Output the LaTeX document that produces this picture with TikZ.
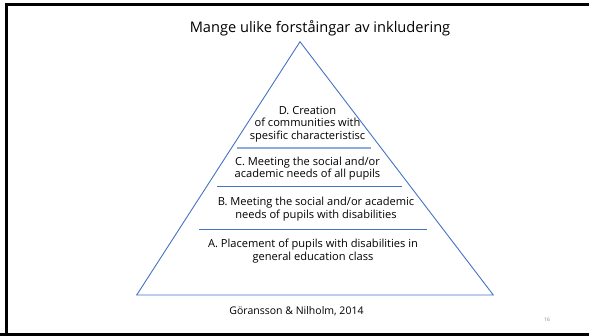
\documentclass[tikz,border=0pt]{standalone}
\usepackage{fontspec}
\setmainfont{Open Sans}
\definecolor{triblue}{HTML}{4472C4}
\definecolor{lightblue}{HTML}{8FAADC}
\begin{document}
\begin{tikzpicture}[x=1pt,y=-1pt,
  lvl/.style={align=center,font=\fontsize{11.1}{12.3}\selectfont,inner sep=0pt},
  sep/.style={draw=triblue,line width=0.9pt},
  frame/.style={line width=3pt,black}]
\useasboundingbox (0,0) rectangle (589,335);
% frame
\draw[frame] (6.5,3) -- (6.5,335);
\draw[frame] (5,4.5) -- (589,4.5);
\draw[frame] (0,334) -- (589,334);
% title
\node[font=\fontsize{14.6}{16}\selectfont,inner sep=0pt] (title) at (320,28) {Mange ulike forståingar av inkludering};
% triangle
\coordinate (apex) at (300,41.7);
\coordinate (bl) at (136.7,295);
\coordinate (br) at (493.3,295);
\draw[triblue,line width=0.9pt] (apex) -- (br) -- (bl) -- cycle;
% separators
\coordinate (l1a) at (237,148); \coordinate (l1b) at (371,148);
\coordinate (l2a) at (217,186.7); \coordinate (l2b) at (402,186.7);
\coordinate (l3a) at (199,229); \coordinate (l3b) at (427,229);
\draw[draw=lightblue,line width=1.3pt] (l1a) -- (l1b);
\draw[sep] (l2a) -- (l2b);
\draw[sep] (l3a) -- (l3b);
% texts
\node[lvl] (d) at (307.5,124) {D. Creation\\of communities with\\spesific characteristisc};
\node[lvl] (c) at (307.5,168.5) {C. Meeting the social and/or\\academic needs of all pupils};
\node[lvl] (b) at (316,209) {B. Meeting the social and/or academic\\needs of pupils with disabilities};
\node[lvl] (a) at (313,251) {A. Placement of pupils with disabilities in\\general education class};
\node[font=\fontsize{10.5}{12}\selectfont,inner sep=0pt] (ref) at (296.5,310.7) {Göransson \& Nilholm, 2014};
\node[font=\fontsize{5}{6}\selectfont,text=gray,inner sep=0pt] (pg) at (547,320) {16};
\end{tikzpicture}
\end{document}
